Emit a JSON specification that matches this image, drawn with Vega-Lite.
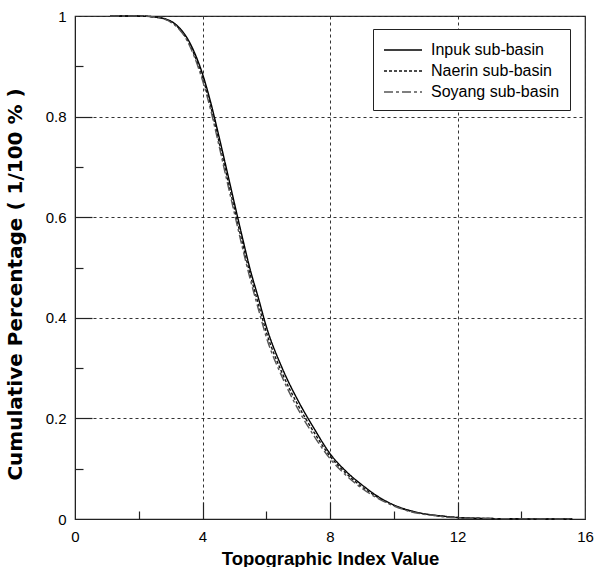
{
  "$schema": "https://vega.github.io/schema/vega-lite/v6.json",
  "width": 510,
  "height": 503,
  "autosize": {"type": "none"},
  "padding": {"left": 75, "top": 16, "right": 9, "bottom": 48},
  "background": "white",
  "config": {
    "view": {"stroke": "#222", "strokeWidth": 1.2},
    "font": "Liberation Sans",
    "axis": {"labelFont": "Liberation Sans", "titleFont": "Liberation Sans", "labelColor": "black", "titleColor": "black", "domainColor": "#222", "tickColor": "#222"}
  },
  "data": {
    "values": [
      {"basin": "Inpuk sub-basin", "x": 1.1, "y": 1.0},
      {"basin": "Inpuk sub-basin", "x": 2.0, "y": 1.0},
      {"basin": "Inpuk sub-basin", "x": 2.5, "y": 0.998},
      {"basin": "Inpuk sub-basin", "x": 3.0, "y": 0.99},
      {"basin": "Inpuk sub-basin", "x": 3.25, "y": 0.978},
      {"basin": "Inpuk sub-basin", "x": 3.5, "y": 0.958},
      {"basin": "Inpuk sub-basin", "x": 3.75, "y": 0.927},
      {"basin": "Inpuk sub-basin", "x": 4.0, "y": 0.885},
      {"basin": "Inpuk sub-basin", "x": 4.25, "y": 0.83},
      {"basin": "Inpuk sub-basin", "x": 4.5, "y": 0.765},
      {"basin": "Inpuk sub-basin", "x": 4.75, "y": 0.697},
      {"basin": "Inpuk sub-basin", "x": 5.0, "y": 0.628},
      {"basin": "Inpuk sub-basin", "x": 5.25, "y": 0.56},
      {"basin": "Inpuk sub-basin", "x": 5.5, "y": 0.495},
      {"basin": "Inpuk sub-basin", "x": 5.75, "y": 0.44},
      {"basin": "Inpuk sub-basin", "x": 6.0, "y": 0.383},
      {"basin": "Inpuk sub-basin", "x": 6.5, "y": 0.3},
      {"basin": "Inpuk sub-basin", "x": 7.0, "y": 0.235},
      {"basin": "Inpuk sub-basin", "x": 7.5, "y": 0.18},
      {"basin": "Inpuk sub-basin", "x": 8.0, "y": 0.13},
      {"basin": "Inpuk sub-basin", "x": 8.5, "y": 0.095},
      {"basin": "Inpuk sub-basin", "x": 9.0, "y": 0.068},
      {"basin": "Inpuk sub-basin", "x": 9.5, "y": 0.045},
      {"basin": "Inpuk sub-basin", "x": 10.0, "y": 0.028},
      {"basin": "Inpuk sub-basin", "x": 10.5, "y": 0.017},
      {"basin": "Inpuk sub-basin", "x": 11.0, "y": 0.01},
      {"basin": "Inpuk sub-basin", "x": 11.5, "y": 0.006},
      {"basin": "Inpuk sub-basin", "x": 12.0, "y": 0.003},
      {"basin": "Inpuk sub-basin", "x": 13.0, "y": 0.001},
      {"basin": "Inpuk sub-basin", "x": 14.0, "y": 0.0003},
      {"basin": "Inpuk sub-basin", "x": 15.6, "y": 0.0},
      {"basin": "Naerin sub-basin", "x": 1.1, "y": 1.0},
      {"basin": "Naerin sub-basin", "x": 2.0, "y": 1.0},
      {"basin": "Naerin sub-basin", "x": 2.5, "y": 0.998},
      {"basin": "Naerin sub-basin", "x": 3.0, "y": 0.989},
      {"basin": "Naerin sub-basin", "x": 3.25, "y": 0.976},
      {"basin": "Naerin sub-basin", "x": 3.5, "y": 0.955},
      {"basin": "Naerin sub-basin", "x": 3.75, "y": 0.922},
      {"basin": "Naerin sub-basin", "x": 4.0, "y": 0.878},
      {"basin": "Naerin sub-basin", "x": 4.25, "y": 0.822},
      {"basin": "Naerin sub-basin", "x": 4.5, "y": 0.755},
      {"basin": "Naerin sub-basin", "x": 4.75, "y": 0.686},
      {"basin": "Naerin sub-basin", "x": 5.0, "y": 0.617},
      {"basin": "Naerin sub-basin", "x": 5.25, "y": 0.549},
      {"basin": "Naerin sub-basin", "x": 5.5, "y": 0.485},
      {"basin": "Naerin sub-basin", "x": 5.75, "y": 0.428},
      {"basin": "Naerin sub-basin", "x": 6.0, "y": 0.372},
      {"basin": "Naerin sub-basin", "x": 6.5, "y": 0.29},
      {"basin": "Naerin sub-basin", "x": 7.0, "y": 0.226},
      {"basin": "Naerin sub-basin", "x": 7.5, "y": 0.172},
      {"basin": "Naerin sub-basin", "x": 8.0, "y": 0.125},
      {"basin": "Naerin sub-basin", "x": 8.5, "y": 0.091},
      {"basin": "Naerin sub-basin", "x": 9.0, "y": 0.064},
      {"basin": "Naerin sub-basin", "x": 9.5, "y": 0.043},
      {"basin": "Naerin sub-basin", "x": 10.0, "y": 0.027},
      {"basin": "Naerin sub-basin", "x": 10.5, "y": 0.016},
      {"basin": "Naerin sub-basin", "x": 11.0, "y": 0.0095},
      {"basin": "Naerin sub-basin", "x": 11.5, "y": 0.0055},
      {"basin": "Naerin sub-basin", "x": 12.0, "y": 0.003},
      {"basin": "Naerin sub-basin", "x": 13.0, "y": 0.001},
      {"basin": "Naerin sub-basin", "x": 14.0, "y": 0.0003},
      {"basin": "Naerin sub-basin", "x": 15.6, "y": 0.0},
      {"basin": "Soyang sub-basin", "x": 1.1, "y": 1.0},
      {"basin": "Soyang sub-basin", "x": 2.0, "y": 1.0},
      {"basin": "Soyang sub-basin", "x": 2.5, "y": 0.998},
      {"basin": "Soyang sub-basin", "x": 3.0, "y": 0.988},
      {"basin": "Soyang sub-basin", "x": 3.25, "y": 0.975},
      {"basin": "Soyang sub-basin", "x": 3.5, "y": 0.953},
      {"basin": "Soyang sub-basin", "x": 3.75, "y": 0.918},
      {"basin": "Soyang sub-basin", "x": 4.0, "y": 0.872},
      {"basin": "Soyang sub-basin", "x": 4.25, "y": 0.815},
      {"basin": "Soyang sub-basin", "x": 4.5, "y": 0.747},
      {"basin": "Soyang sub-basin", "x": 4.75, "y": 0.677},
      {"basin": "Soyang sub-basin", "x": 5.0, "y": 0.608},
      {"basin": "Soyang sub-basin", "x": 5.25, "y": 0.54},
      {"basin": "Soyang sub-basin", "x": 5.5, "y": 0.476},
      {"basin": "Soyang sub-basin", "x": 5.75, "y": 0.418},
      {"basin": "Soyang sub-basin", "x": 6.0, "y": 0.362},
      {"basin": "Soyang sub-basin", "x": 6.5, "y": 0.282},
      {"basin": "Soyang sub-basin", "x": 7.0, "y": 0.218},
      {"basin": "Soyang sub-basin", "x": 7.5, "y": 0.165},
      {"basin": "Soyang sub-basin", "x": 8.0, "y": 0.12},
      {"basin": "Soyang sub-basin", "x": 8.5, "y": 0.087},
      {"basin": "Soyang sub-basin", "x": 9.0, "y": 0.061},
      {"basin": "Soyang sub-basin", "x": 9.5, "y": 0.041},
      {"basin": "Soyang sub-basin", "x": 10.0, "y": 0.026},
      {"basin": "Soyang sub-basin", "x": 10.5, "y": 0.015},
      {"basin": "Soyang sub-basin", "x": 11.0, "y": 0.009},
      {"basin": "Soyang sub-basin", "x": 11.5, "y": 0.005},
      {"basin": "Soyang sub-basin", "x": 12.0, "y": 0.0025},
      {"basin": "Soyang sub-basin", "x": 13.0, "y": 0.001},
      {"basin": "Soyang sub-basin", "x": 14.0, "y": 0.0002},
      {"basin": "Soyang sub-basin", "x": 15.6, "y": 0.0}
    ]
  },
  "resolve": {"axis": {"x": "independent", "y": "independent"}},
  "layer": [
    {
      "mark": {"type": "line", "interpolate": "monotone", "strokeWidth": 1.4},
      "encoding": {
        "x": {
          "field": "x", "type": "quantitative",
          "scale": {"domain": [0, 16], "nice": false, "zero": false},
          "axis": {
            "orient": "bottom",
            "values": [0, 4, 8, 12, 16],
            "ticks": false,
            "labelPadding": 10,
            "labelFontSize": 15,
            "labelFlush": false,
            "grid": true,
            "gridColor": "#333",
            "gridDash": [3, 3],
            "gridWidth": 1,
            "domain": true,
            "title": "Topographic Index Value",
            "titleFontSize": 18.5,
            "titleFontWeight": "bold",
            "titlePadding": 5
          }
        },
        "y": {
          "field": "y", "type": "quantitative",
          "scale": {"domain": [0, 1], "nice": false, "zero": false},
          "axis": {
            "orient": "left",
            "values": [0, 0.2, 0.4, 0.6, 0.8, 1],
            "labelExpr": "datum.value == 0 || datum.value == 1 ? format(datum.value, 'd') : format(datum.value, '.1f')",
            "ticks": false,
            "labelPadding": 9,
            "labelFontSize": 15,
            "labelFlush": false,
            "grid": true,
            "gridColor": "#333",
            "gridDash": [3, 3],
            "gridWidth": 1,
            "domain": true,
            "title": "Cumulative Percentage ( 1/100 % )",
            "titleFont": "DejaVu Sans",
            "titleFontSize": 20,
            "titleFontWeight": "bold",
            "titlePadding": 20,
            "titleY": 268
          }
        },
        "color": {
          "field": "basin", "type": "nominal",
          "scale": {"domain": ["Inpuk sub-basin", "Naerin sub-basin", "Soyang sub-basin"], "range": ["#000000", "#111111", "#555555"]},
          "legend": {
            "title": null,
            "orient": "none",
            "legendX": 298,
            "legendY": 13,
            "symbolType": "M-1.9,0H1.9",
            "symbolSize": 400,
            "symbolStrokeWidth": 1.4,
            "symbolOffset": 9,
            "labelOffset": 17,
            "labelFontSize": 16,
            "labelFont": "Liberation Sans",
            "labelColor": "black",
            "padding": 10,
            "rowPadding": 2,
            "strokeColor": "#222",
            "fillColor": "white"
          }
        },
        "strokeDash": {
          "field": "basin", "type": "nominal",
          "scale": {"domain": ["Inpuk sub-basin", "Naerin sub-basin", "Soyang sub-basin"], "range": [[1, 0], [3, 2], [9, 3, 3, 3]]},
          "legend": null
        }
      }
    },
    {
      "mark": {"type": "line", "strokeOpacity": 0},
      "encoding": {
        "x": {
          "field": "x", "type": "quantitative",
          "axis": {
            "orient": "bottom",
            "values": [2, 4, 6, 8, 10, 12, 14],
            "labels": false,
            "grid": false,
            "domain": false,
            "title": null,
            "tickColor": "#222",
            "tickWidth": 1.2,
            "tickSize": {"condition": {"test": "datum.value % 4 == 0", "value": -17}, "value": -8}
          }
        },
        "y": {
          "field": "y", "type": "quantitative",
          "axis": {
            "orient": "left",
            "values": [0.1, 0.2, 0.3, 0.4, 0.5, 0.6, 0.7, 0.8, 0.9],
            "labels": false,
            "grid": false,
            "domain": false,
            "title": null,
            "tickColor": "#222",
            "tickWidth": 1.2,
            "tickSize": {"condition": {"test": "round(datum.value * 10) % 2 == 0", "value": -17}, "value": -8}
          }
        },
        "detail": {"field": "basin", "type": "nominal"}
      }
    }
  ]
}
